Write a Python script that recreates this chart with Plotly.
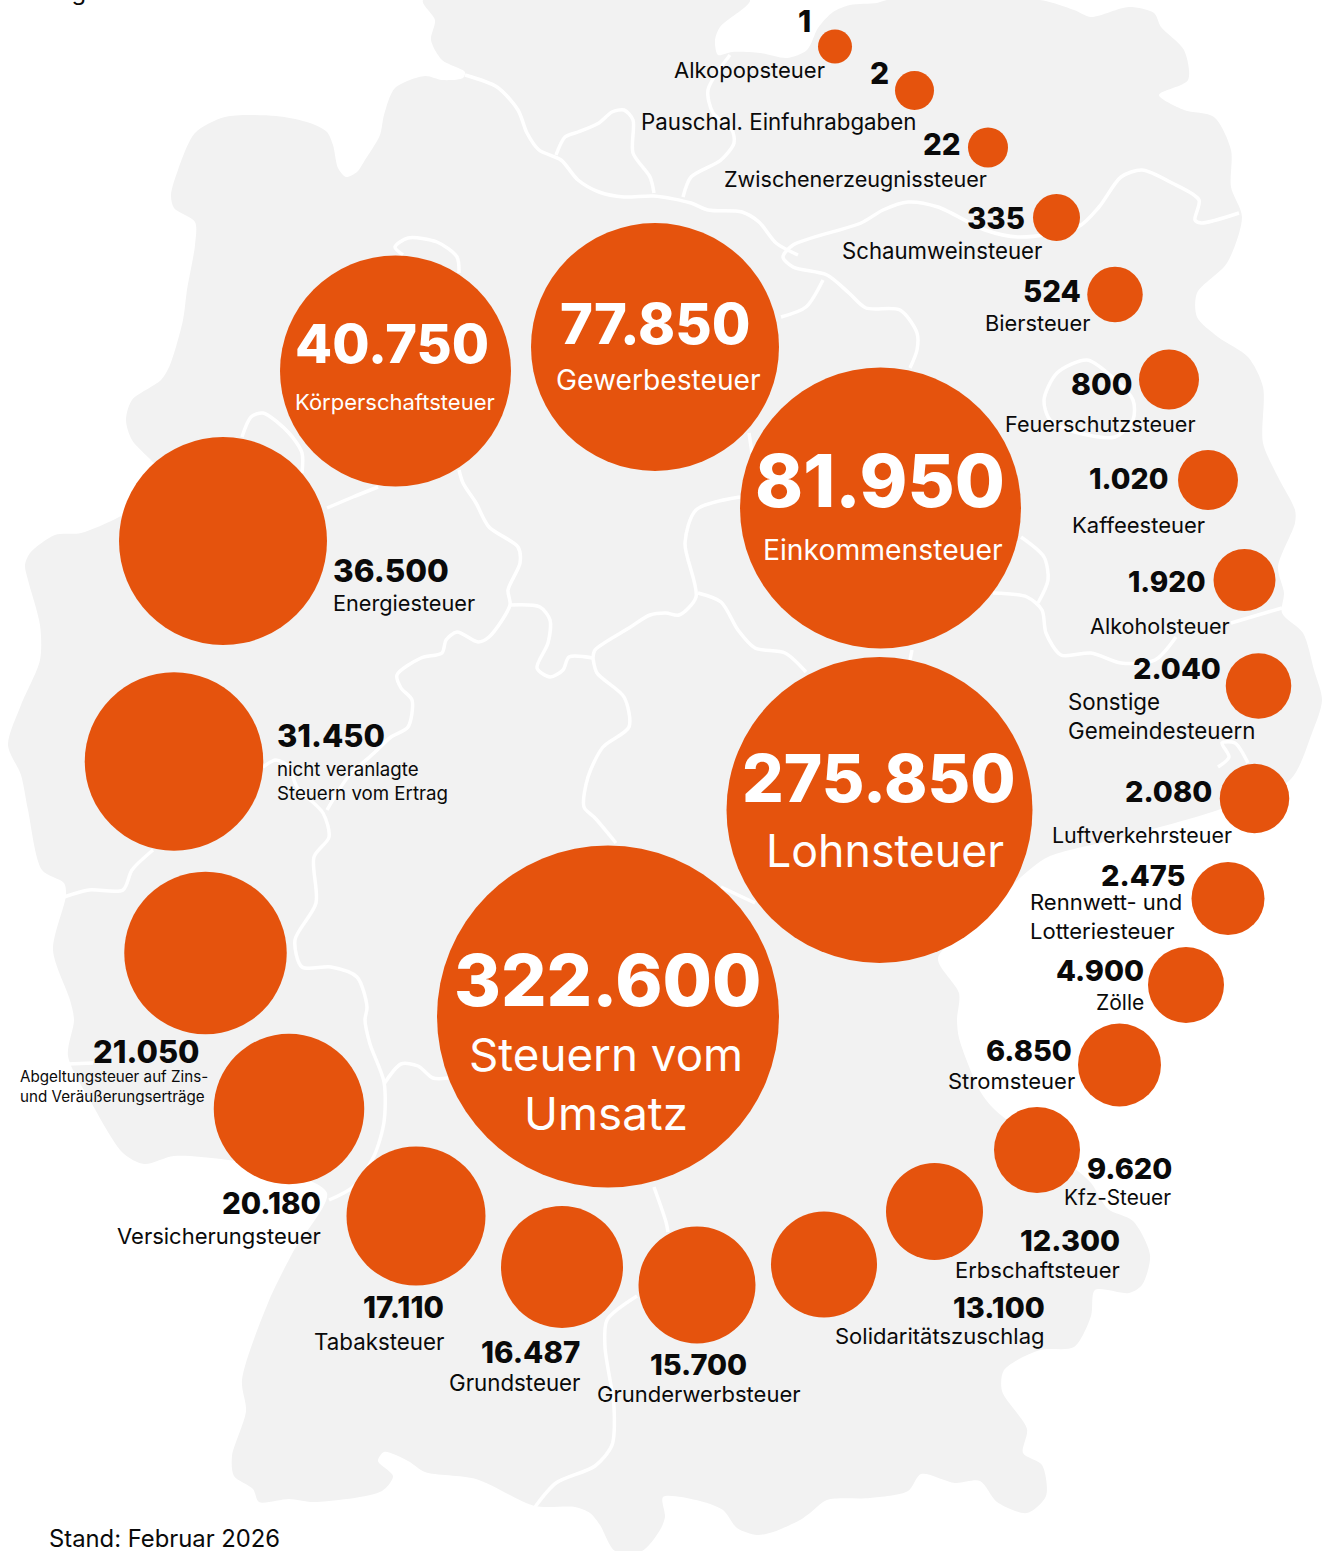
import plotly.graph_objects as go

# ---------- data ----------
names = ["Steuern vom<br>Umsatz", "Lohnsteuer", "Einkommensteuer", "Gewerbesteuer", "Körperschaftsteuer",
         "Energiesteuer", "nicht veranlagte<br>Steuern vom Ertrag",
         "Abgeltungsteuer auf Zins-<br>und Veräußerungserträge", "Versicherungsteuer", "Tabaksteuer",
         "Grundsteuer", "Grunderwerbsteuer", "Solidaritätszuschlag", "Erbschaftsteuer", "Kfz-Steuer",
         "Stromsteuer", "Zölle", "Rennwett- und<br>Lotteriesteuer", "Luftverkehrsteuer",
         "Sonstige<br>Gemeindesteuern", "Alkoholsteuer", "Kaffeesteuer", "Feuerschutzsteuer", "Biersteuer",
         "Schaumweinsteuer", "Zwischenerzeugnissteuer", "Pauschal. Einfuhrabgaben", "Alkopopsteuer"]
values = [322600, 275850, 81950, 77850, 40750, 36500, 31450, 21050, 20180, 17110, 16487, 15700, 13100, 12300,
          9620, 6850, 4900, 2475, 2080, 2040, 1920, 1020, 800, 524, 335, 22, 2, 1]

# ---------- placement of the hand-arranged bubbles (pixels of the page) ----------
bubble_x = [608, 879.5, 880.5, 655, 395.5, 223, 174, 205.5, 289, 416, 562, 697, 824, 934.5, 1037,
            1119.5, 1186, 1228, 1254.5, 1258.5, 1244.5, 1208, 1169, 1115, 1056.5, 988, 914.5, 835]
bubble_y = [1016.5, 810, 508, 347, 371, 541, 761.5, 953, 1109, 1216, 1267, 1285, 1264.5, 1211.5, 1150,
            1065, 985, 898.5, 798.5, 686, 580, 480, 379.5, 294.5, 217.5, 147.5, 90.5, 46.5]
bubble_d = [342, 306, 281, 248, 231, 208, 178.5, 162.5, 150.5, 139, 122, 117, 106, 97, 86,
            83, 76, 73, 69.5, 65.5, 62, 60, 60, 55.5, 47, 40, 39, 34]

# value label: x, y, anchor, size
val_pos = [(607, 980, "center", 71.5), (879, 778, "center", 65.5), (880, 480, "center", 72.5), (655, 324, "center", 56),
           (392, 343, "center", 54), (333, 570, "left", 31.5), (277, 735, "left", 31), (200, 1051, "right", 31),
           (321, 1203, "right", 29.5), (444, 1307, "right", 29.5), (580, 1352, "right", 29.5), (747, 1364, "right", 29),
           (1045, 1307, "right", 29), (1120, 1240, "right", 29), (1172, 1168, "right", 29), (1072, 1050, "right", 29),
           (1144, 970, "right", 29), (1185, 875, "right", 29), (1212, 791, "right", 29), (1221, 668, "right", 29),
           (1206, 582, "right", 28), (1168, 478, "right", 28.5), (1132, 384, "right", 30), (1081, 291, "right", 29.5),
           (1025, 218, "right", 29.5), (961, 144, "right", 29.5), (889, 73, "right", 30), (811, 21, "right", 30)]
# category label: x, y, anchor, size
lab_pos = [(606, 1084, "center", 45.7), (885, 851, "center", 44.7), (883, 550, "center", 28.3), (658, 380, "center", 28.2),
           (395, 402, "center", 22), (333, 603, "left", 21.7), (277, 781, "left", 18.7), (20, 1086, "left", 15.2),
           (321, 1236, "right", 22), (444, 1341, "right", 22.3), (580, 1382, "right", 22.3), (699, 1394, "center", 22),
           (1045, 1336, "right", 22), (1120, 1270, "right", 22), (1171, 1197, "right", 20.8), (1075, 1081, "right", 22),
           (1144, 1002, "right", 21), (1030, 916, "left", 22), (1232, 835, "right", 21.4), (1068, 716, "left", 22.3),
           (1230, 626, "right", 21.6), (1205, 525, "right", 22), (1196, 424, "right", 21.6), (1090, 323, "right", 21.8),
           (1042, 250, "right", 22.2), (987, 179, "right", 21.6), (916, 121, "right", 22.3), (825, 70, "right", 22)]

# ---------- backdrop: map silhouette and river lines ----------
outline = [(423, 0), (750, 0), (720, 27), (715, 40), (718, 55), (732, 52), (760, 53), (787, 58), (807, 50), (818, 28),
           (833, 12), (850, 5), (877, 3), (887, 0), (1040, 0), (1074, 10), (1091, 17), (1129, 7), (1154, 13), (1161, 27),
           (1184, 50), (1188, 80), (1159, 95), (1184, 110), (1214, 117), (1231, 150), (1231, 187), (1242, 217), (1227, 263),
           (1197, 293), (1197, 317), (1218, 337), (1248, 357), (1263, 387), (1263, 443), (1278, 477), (1295, 510), (1295, 523),
           (1278, 567), (1284, 593), (1282, 613), (1303, 633), (1314, 670), (1322, 700), (1312, 733), (1290, 780), (1218, 810),
           (1112, 840), (1048, 857), (1021, 877), (980, 920), (938, 958), (959, 993), (957, 1020), (959, 1038), (980, 1091),
           (995, 1110), (1074, 1168), (1091, 1183), (1108, 1209), (1133, 1221), (1150, 1255), (1142, 1285), (1129, 1293),
           (1095, 1290), (1091, 1316), (1074, 1347), (1040, 1350), (1004, 1370), (1002, 1391), (1027, 1429), (1023, 1453),
           (1042, 1465), (1046, 1496), (1027, 1513), (997, 1502), (980, 1481), (955, 1483), (921, 1474), (908, 1491),
           (870, 1498), (827, 1500), (810, 1513), (800, 1520), (773, 1532), (757, 1535), (737, 1528), (723, 1510), (696, 1500),
           (663, 1497), (665, 1517), (660, 1530), (642, 1551), (615, 1551), (600, 1525), (590, 1513), (575, 1507), (535, 1506),
           (476, 1479), (425, 1472), (408, 1461), (384, 1452), (378, 1461), (393, 1476), (382, 1491), (314, 1502), (289, 1499),
           (259, 1502), (253, 1489), (234, 1476), (232, 1456), (246, 1411), (242, 1380), (268, 1303), (293, 1252), (327, 1193),
           (280, 1170), (221, 1159), (174, 1156), (144, 1164), (123, 1153), (91, 1102), (68, 1056), (74, 1020), (70, 1000),
           (53, 950), (66, 895), (64, 883), (42, 870), (28, 810), (21, 775), (8, 745), (21, 705), (40, 660), (40, 625), (28, 580),
           (25, 565), (30, 553), (55, 535), (81, 533), (119, 517), (161, 490), (159, 470), (132, 440), (126, 420), (132, 400),
           (161, 380), (170, 365), (183, 320), (187, 290), (195, 245), (195, 222), (174, 208), (171, 195), (178, 170), (195, 133),
           (225, 117), (276, 116), (310, 123), (327, 132), (333, 145), (338, 168), (346, 177), (357, 172), (365, 160), (380, 135),
           (384, 115), (395, 88), (425, 76), (442, 80), (463, 78), (465, 72), (442, 60), (431, 40), (435, 20), (423, 0)]
rivers = [
    [(465, 75), (497, 87), (518, 110), (527, 133), (539, 150), (561, 160), (578, 180), (599, 192), (624, 197), (654, 196),
     (691, 203), (708, 210), (742, 212), (759, 222), (776, 243), (798, 255)],
    [(556, 155), (565, 137), (578, 132), (599, 123), (612, 112), (624, 110), (633, 120), (633, 153), (650, 177), (654, 193)],
    [(730, 55), (708, 90), (713, 113), (732, 130), (734, 143), (721, 160), (691, 177), (683, 197)],
    [(1239, 213), (1201, 223), (1195, 220), (1199, 200), (1172, 183), (1142, 170), (1121, 177), (1099, 207), (1078, 227),
     (1019, 237), (985, 230), (938, 207), (908, 202), (883, 210), (861, 223), (793, 245), (783, 257), (793, 267), (827, 275),
     (849, 293), (866, 308), (900, 310), (917, 333), (917, 350), (910, 368)],
    [(823, 280), (806, 307), (781, 317)],
    [(1087, 360), (1057, 373), (1044, 400), (1050, 420), (1075, 432), (1115, 437), (1133, 420), (1133, 400), (1110, 375), (1087, 360)],
    [(403, 255), (395, 247), (408, 238), (437, 242), (457, 257), (459, 273)],
    [(242, 437), (251, 417), (263, 413), (289, 433), (302, 453), (302, 473)],
    [(378, 487), (353, 497), (327, 508)],
    [(459, 470), (463, 483), (476, 503), (489, 527), (518, 547), (520, 563), (508, 590), (510, 605), (489, 637), (478, 642),
     (457, 632), (446, 640), (442, 653), (421, 658), (397, 675), (401, 688), (412, 700), (408, 727), (391, 737), (374, 753),
     (348, 777), (327, 810)],
    [(510, 605), (540, 607), (550, 620), (548, 643), (537, 668), (550, 677), (563, 670), (569, 657), (593, 658)],
    [(593, 658), (595, 650), (629, 628), (650, 615), (666, 613), (679, 615), (696, 597), (685, 543), (696, 510), (740, 497)],
    [(698, 593), (721, 602), (738, 630), (755, 648), (785, 653), (806, 672)],
    [(593, 658), (597, 673), (624, 697), (629, 727), (603, 747), (588, 777), (584, 807), (595, 818), (616, 843)],
    [(263, 767), (276, 760), (289, 767), (297, 787), (323, 813), (329, 837), (314, 857), (316, 903), (295, 940), (302, 967),
     (331, 967), (357, 977), (367, 1007), (365, 1020), (370, 1044), (384, 1082), (384, 1122), (374, 1156), (353, 1187), (329, 1200)],
    [(384, 1084), (401, 1064), (418, 1066), (433, 1078), (448, 1078)],
    [(153, 850), (132, 870), (123, 890), (89, 890), (64, 897)],
    [(68, 1064), (93, 1063)],
    [(654, 1187), (666, 1222), (668, 1232)],
    [(637, 1296), (607, 1320), (605, 1347), (614, 1407), (612, 1445), (595, 1466), (556, 1483), (535, 1507)],
    [(1021, 537), (1044, 557), (1048, 580), (1038, 603)],
    [(993, 593), (1027, 597), (1042, 610), (1046, 633), (1061, 655), (1091, 653), (1121, 663), (1155, 660), (1176, 637)],
    [(1231, 623), (1282, 608)],
    [(1218, 767), (1229, 757), (1222, 743), (1235, 743), (1248, 763)],
    [(912, 650), (910, 660)],
    [(721, 887), (755, 903)],
    [(749, 433), (753, 460)],
]

ORANGE = "#E5530D"
GREY = "#F2F2F2"
FONT = "Inter"

fig = go.Figure()
fig.add_trace(go.Scatter(x=[p[0] for p in outline], y=[p[1] for p in outline], mode="lines", fill="toself",
                         fillcolor=GREY, line=dict(color=GREY, width=0, shape="spline", smoothing=0.8),
                         hoverinfo="skip", showlegend=False))
for r in rivers:
    fig.add_trace(go.Scatter(x=[p[0] for p in r], y=[p[1] for p in r], mode="lines",
                             line=dict(color="white", width=3.5, shape="spline", smoothing=0.8),
                             hoverinfo="skip", showlegend=False))
fig.add_trace(go.Scatter(x=bubble_x, y=bubble_y, mode="markers", text=names, customdata=values,
                         marker=dict(size=bubble_d, sizemode="diameter", sizeref=1, color=ORANGE, line=dict(width=0), opacity=1),
                         hovertemplate="%{text}: %{customdata}<extra></extra>", showlegend=False))

def fmt(v):
    return f"{v:,}".replace(",", ".")

anns = []
for i, (name, v) in enumerate(zip(names, values)):
    inside = i < 5
    col = "white" if inside else "#0a0a0a"
    vx, vy, va, vs = val_pos[i]
    anns.append(dict(x=vx, y=vy, xref="x", yref="y", text=fmt(v), showarrow=False, xanchor=va, yanchor="middle",
                     font=dict(family=FONT, size=vs, color=col, weight=800), borderpad=0, borderwidth=0))
    lx, ly, la, ls = lab_pos[i]
    anns.append(dict(x=lx, y=ly, xref="x", yref="y", text=name, showarrow=False, xanchor=la, yanchor="middle", align=la,
                     font=dict(family=FONT, size=ls, color=col, weight=400), borderpad=0, borderwidth=0))
anns.append(dict(x=47.5, y=1538, xref="x", yref="y", text="Stand: Februar 2026", showarrow=False, xanchor="left", yanchor="middle",
                 font=dict(family=FONT, size=23.8, color="#0a0a0a"), borderpad=0))
anns.append(dict(x=40, y=1 + 8.5 / 1551, xref="x", yref="paper", text="Angaben in Mio. Euro", showarrow=False, xanchor="left", yanchor="middle",
                 font=dict(family=FONT, size=23.8, color="#0a0a0a"), borderpad=0))

fig.update_layout(width=1332, height=1551, margin=dict(l=0, r=0, t=0, b=0), paper_bgcolor="white", plot_bgcolor="white",
                  xaxis=dict(range=[0, 1332], visible=False, fixedrange=True),
                  yaxis=dict(range=[1551, 0], visible=False, fixedrange=True),
                  annotations=anns, showlegend=False, hovermode="closest")
fig.write_html("out.html", config=dict(displayModeBar=False),
               post_script="document.body.style.margin='0';document.documentElement.style.overflow='hidden';")
